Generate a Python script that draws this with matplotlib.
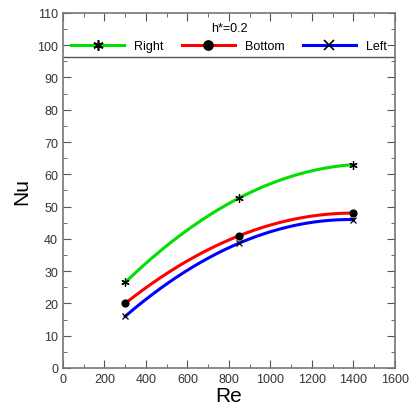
import numpy as np
import matplotlib.pyplot as plt
from matplotlib.ticker import MultipleLocator

plt.rcParams['font.family'] = ['Liberation Sans', 'DejaVu Sans']

re_vals = [300, 850, 1400]
nu_right = [26.5, 52.7, 63.0]
nu_bottom = [20.0, 41.0, 48.0]
nu_left = [16.0, 38.7, 46.0]

fig = plt.figure(figsize=(4.11, 4.10), dpi=100)
ax = fig.add_axes([0.153, 0.100, 0.808, 0.866])

xs = np.linspace(re_vals[0], re_vals[-1], 200)
series = [(nu_right, '#00e000', 'Right', dict(marker=(6, 2, 0), ms=6)),
          (nu_bottom, '#ff0000', 'Bottom', dict(marker='o', ms=5)),
          (nu_left, '#0000ff', 'Left', dict(marker='x', ms=5))]
handles = []
for y, c, lab, mk in series:
    # smooth curve through the three points
    p = np.polyfit(re_vals, y, 2)
    ax.plot(xs, np.polyval(p, xs), color=c, lw=2.2, zorder=2)
    ax.plot(re_vals, y, ls='none', color='black', mec='black', mew=0.9, zorder=3, **mk)
    leg_mk = dict(mk)
    leg_mk['ms'] = mk['ms'] + 1.5
    h, = ax.plot([], [], color=c, lw=2.2, mec='black', mfc='black', mew=1.2, **leg_mk)
    handles.append(h)

ax.axhline(96.2, color='#555555', lw=1)
leg = ax.legend(handles, ['Right', 'Bottom', 'Left'], ncol=3, title='h*=0.2',
                loc='upper center', bbox_to_anchor=(0.5, 1.0), frameon=False,
                fontsize=9, title_fontsize=9, handlelength=4.2, columnspacing=1.5,
                handletextpad=0.8, borderaxespad=0.3)

ax.set_xlim(0, 1600)
ax.set_ylim(0, 110)
ax.xaxis.set_major_locator(MultipleLocator(200))
ax.xaxis.set_minor_locator(MultipleLocator(100))
ax.yaxis.set_major_locator(MultipleLocator(10))
ax.yaxis.set_minor_locator(MultipleLocator(5))
ax.tick_params(which='both', direction='in', top=True, right=True, color='#555555',
               labelsize=9, labelcolor='#333333')
ax.tick_params(which='major', length=6)
ax.tick_params(which='minor', length=3)
for s in ax.spines.values():
    s.set_color('#777777')
    s.set_linewidth(1.2)

ax.set_xlabel('Re', fontsize=15, labelpad=1)
ax.set_ylabel('Nu', fontsize=15, labelpad=4)

fig.savefig('out.png', dpi=100)
